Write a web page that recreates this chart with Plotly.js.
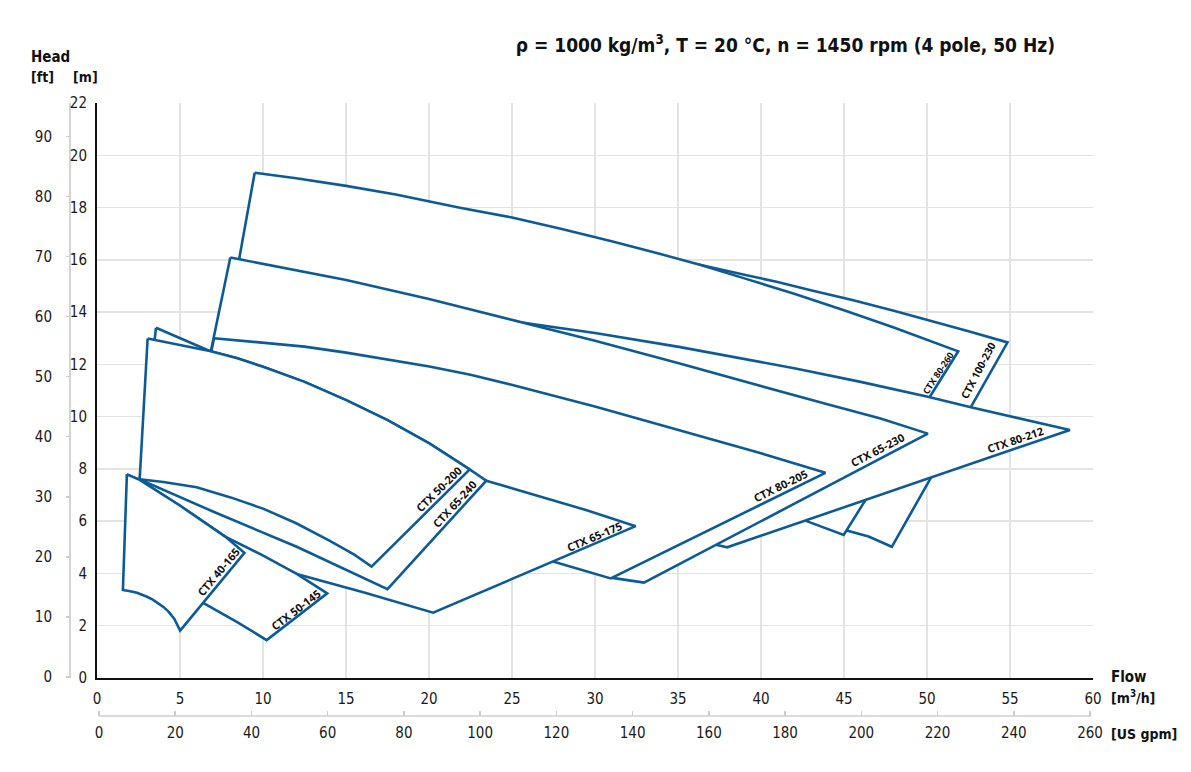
<!DOCTYPE html>
<html>
<head>
<meta charset="utf-8">
<script src="https://cdn.plot.ly/plotly-3.0.1.min.js"></script>
<style>
html,body{margin:0;padding:0;background:#fff;}
#chart{width:1191px;height:772px;}
</style>
</head>
<body>
<div id="chart"></div>
<script>
// ---------- DATA: pump operating tiles (Q in m3/h, H in m), drawn bottom -> top ----------
const ctx100_230_q = [12, 14, 22, 30, 36.37, 39, 41, 43, 45.5, 48, 50.5, 52.5, 54.85, 47.88, 46.48, 45.17, 43, 35, 25, 15, 12];
const ctx100_230_h = [18.5, 18.3, 17.5, 16.6, 15.8, 15.43, 15.15, 14.84, 14.46, 14.05, 13.62, 13.27, 12.84, 5.02, 5.41, 5.64, 6.6, 9.5, 12.5, 15.5, 16.5];

const ctx80_260_q = [9.5, 12, 15, 18, 21.86, 25, 28, 31, 34, 36.37, 39, 42, 45, 48, 51.88, 44.98, 42.67, 38, 30, 20, 12, 8.57];
const ctx80_260_h = [19.33, 19.12, 18.83, 18.5, 17.99, 17.62, 17.18, 16.71, 16.21, 15.8, 15.29, 14.7, 14.07, 13.41, 12.5, 5.47, 6.02, 7.5, 10, 12.5, 14.5, 16.05];

const ctx80_212_q = [9, 15, 20, 25.5, 30, 35.05, 38.5, 42, 46, 50.05, 52.64, 55.5, 58.61, 37.96, 37.36, 33, 20, 9];
const ctx80_212_h = [15.2, 14.65, 14.1, 13.62, 13.2, 12.67, 12.27, 11.85, 11.33, 10.76, 10.36, 9.95, 9.49, 5.0, 5.09, 5.5, 9, 12.5];

const ctx65_230_q = [8.03, 11.5, 15.01, 20, 25.03, 30, 35.05, 38, 41, 44, 47.2, 50.05, 32.95, 30.95, 27.5, 23, 6.5];
const ctx65_230_h = [16.09, 15.67, 15.23, 14.5, 13.7, 12.9, 12.04, 11.52, 11.0, 10.47, 9.93, 9.35, 3.65, 3.84, 4.75, 6.5, 11.4];

const ctx80_205_q = [7.05, 10, 12.5, 15.01, 17.5, 20.02, 22.5, 25.03, 30.05, 35.05, 40, 43.88, 30.95, 27.52, 25, 23.45, 6.6];
const ctx80_205_h = [13.0, 12.84, 12.68, 12.45, 12.2, 11.92, 11.6, 11.21, 10.38, 9.49, 8.6, 7.85, 3.81, 4.45, 4.95, 5.25, 11.6];

const ctx65_175_q = [23.45, 26.64, 29.5, 32.45, 20.25, 16.04, 12.03, 9.9, 7.72, 5.01, 2.9, 3.3, 10, 17];
const ctx65_175_h = [7.55, 6.95, 6.42, 5.81, 2.50, 3.28, 3.98, 4.6, 5.3, 6.5, 7.42, 9.0, 9.0, 7.8];

const ctx65_240_q = [3.55, 6.79, 8.4, 10.0, 12.5, 15.01, 17.5, 20.02, 22.45, 23.45, 17.5, 15.5, 12.03, 7.02, 2.57];
const ctx65_240_h = [13.4, 12.51, 12.24, 11.91, 11.33, 10.63, 9.87, 8.98, 7.98, 7.55, 3.40, 4.0, 5.02, 6.36, 7.60];

const ctx50_200_q = [3.05, 6.79, 8.4, 10.0, 12.5, 15.01, 17.5, 20.02, 22.45, 16.54, 15.5, 14, 12, 10, 8, 6, 4, 2.57];
const ctx50_200_h = [12.99, 12.51, 12.24, 11.91, 11.33, 10.63, 9.87, 8.98, 7.98, 4.26, 4.72, 5.26, 5.92, 6.48, 6.92, 7.30, 7.50, 7.60];

const ctx50_145_q = [1.80, 2.57, 5.01, 7.72, 9.9, 12.03, 13.87, 10.22, 8.42, 6.42, 4.5, 2.5];
const ctx50_145_h = [7.79, 7.58, 6.59, 5.41, 4.72, 3.98, 3.24, 1.45, 2.15, 2.86, 3.6, 4.5];

const ctx40_165_q = [1.80, 2.57, 5.01, 7.72, 8.88, 5.01, 4.66, 4.31, 4.0, 3.71, 3.36, 3.01, 2.41, 2.0, 1.56];
const ctx40_165_h = [7.79, 7.58, 6.59, 5.41, 4.79, 1.81, 2.26, 2.54, 2.72, 2.86, 3.0, 3.11, 3.26, 3.32, 3.37];

const tileNames = ['CTX 100-230','CTX 80-260','CTX 80-212','CTX 65-230','CTX 80-205',
                   'CTX 65-175','CTX 65-240','CTX 50-200','CTX 50-145','CTX 40-165'];
const tileQ = [ctx100_230_q, ctx80_260_q, ctx80_212_q, ctx65_230_q, ctx80_205_q,
               ctx65_175_q, ctx65_240_q, ctx50_200_q, ctx50_145_q, ctx40_165_q];
const tileH = [ctx100_230_h, ctx80_260_h, ctx80_212_h, ctx65_230_h, ctx80_205_h,
               ctx65_175_h, ctx65_240_h, ctx50_200_h, ctx50_145_h, ctx40_165_h];

// axis tick labels
const flowTicks = [0,5,10,15,20,25,30,35,40,45,50,55,60];
const flowGrid  = [5,10,15,20,25,30,35,40,45,50,55];
const headTicks = [0,2,4,6,8,10,12,14,16,18,20,22];
const gpmTicks  = [0,20,40,60,80,100,120,140,160,180,200,220,240,260];
const ftTicks   = [0,10,20,30,40,50,60,70,80,90];

// ---------- label placement (layout) ----------
const labelPlacement = {
  'CTX 40-165': {q:7.32,  h:4.07,  a:-50,   s:11},
  'CTX 50-145': {q:11.97, h:2.64,  a:-37.6, s:11},
  'CTX 50-200': {q:20.6,  h:7.26,  a:-44.7, s:11},
  'CTX 65-240': {q:21.55, h:6.68,  a:-47.6, s:11},
  'CTX 65-175': {q:29.95, h:5.43,  a:-23.1, s:11},
  'CTX 80-205': {q:41.17, h:7.38,  a:-26.2, s:11},
  'CTX 65-230': {q:47.04, h:8.75,  a:-27.6, s:11},
  'CTX 80-212': {q:55.34, h:9.13,  a:-18.9, s:11},
  'CTX 80-260': {q:50.69, h:11.68, a:-56.5, s:9},
  'CTX 100-230':{q:53.05, h:11.76, a:-62.4, s:10.5}
};

// ---------- build ----------
const W = 1191, H = 772;
const fx = p => p / W;            // pixel x -> paper
const fy = p => (H - p) / H;      // pixel y -> paper
const BLUE = '#0d5b96';
const NARROW = '"DejaVu Sans Condensed", "Liberation Sans Narrow", Roboto, sans-serif';
const LABELF = '"Open Sans", "DejaVu Sans", sans-serif';

const traces = tileQ.map((q, i) => ({
  type: 'scatter', mode: 'lines',
  x: q.concat([q[0]]), y: tileH[i].concat([tileH[i][0]]),
  fill: 'toself', fillcolor: '#ffffff',
  line: {color: BLUE, width: 2.6},
  name: tileNames[i], hoverinfo: 'skip', showlegend: false
}));
// invisible helper traces so that the secondary axes are built
[['x2','y'], ['x','y2'], ['x3','y']].forEach(p => traces.push({
  type:'scatter', mode:'markers', x:[0], y:[0], xaxis:p[0], yaxis:p[1],
  marker:{opacity:0}, hoverinfo:'skip', showlegend:false
}));

const tickFont = {family: NARROW, size: 15, color: '#1a1a1a'};
const boldFont = {family: NARROW, size: 14, color: '#111', weight: 'bold'};

// secondary axis ranges (as drawn on the reference)
const gpmPerPx = 260 / (1091 - 99);
const gpmRange = [-(99 - 97) * gpmPerPx, -(99 - 97) * gpmPerPx + (1094 - 97) * gpmPerPx];
const ftPerPx = 90 / (677 - 136.3);
const ftRange = [-(678 - 677) * ftPerPx, -(678 - 677) * ftPerPx + (678 - 103) * ftPerPx];

const annotations = tileNames.map(n => {
  const p = labelPlacement[n];
  return {x: p.q, y: p.h, xref: 'x', yref: 'y', text: n, showarrow: false,
          textangle: p.a, xanchor: 'center', yanchor: 'middle',
          font: {family: LABELF, size: p.s, color: '#111', weight: 'bold'}};
});
const axisText = [
  {t: 'Head', x: 29, y: 57, f: Object.assign({}, boldFont, {size: 15})},
  {t: '[ft]', x: 29, y: 77, f: boldFont},
  {t: '[m]',  x: 71, y: 77, f: boldFont},
  {t: 'Flow', x: 1109, y: 677, f: Object.assign({}, boldFont, {size: 15})},
  {t: '[m<sup>3</sup>/h]', x: 1109, y: 697, f: boldFont},
  {t: '[US gpm]', x: 1109, y: 734, f: boldFont}
];
axisText.forEach(a => annotations.push({
  x: fx(a.x), y: fy(a.y), xref: 'paper', yref: 'paper', text: a.t, showarrow: false,
  xanchor: 'left', yanchor: 'middle', font: a.f
}));

const layout = {
  width: W, height: H,
  margin: {l: 0, r: 0, t: 0, b: 0},
  paper_bgcolor: '#ffffff', plot_bgcolor: '#ffffff',
  showlegend: false,
  title: {
    text: 'ρ = 1000 kg/m<sup>3</sup>, T = 20 °C, n = 1450 rpm (4 pole, 50 Hz)',
    xref: 'container', yref: 'container', x: fx(1055), xanchor: 'right',
    y: fy(45), yanchor: 'middle',
    font: {family: NARROW, size: 19, color: '#111', weight: 'bold'}
  },
  xaxis: {
    domain: [fx(97), fx(1093)], range: [0, 60], anchor: 'y',
    tickmode: 'array', tickvals: flowTicks, ticktext: flowTicks.map(String),
    showgrid: false,
    showline: true, linecolor: '#111', linewidth: 2,
    ticks: '', zeroline: false, tickfont: tickFont, ticklabelstandoff: 6,
    fixedrange: true
  },
  xaxis3: {
    overlaying: 'x', anchor: 'y', range: [0, 60],
    tickmode: 'array', tickvals: flowGrid, showticklabels: false,
    showgrid: true, gridcolor: '#e3e3e3', gridwidth: 1.5,
    showline: false, ticks: '', zeroline: false, fixedrange: true
  },
  yaxis: {
    domain: [fy(678), fy(103)], range: [0, 22], anchor: 'x',
    tickmode: 'array', tickvals: headTicks, ticktext: headTicks.map(String),
    showgrid: true, gridcolor: '#e3e3e3', gridwidth: 1.5,
    showline: true, linecolor: '#111', linewidth: 2,
    ticks: '', zeroline: false, tickfont: tickFont, ticklabelstandoff: 5,
    fixedrange: true
  },
  xaxis2: {
    overlaying: 'x', anchor: 'free', position: fy(716), side: 'bottom',
    range: gpmRange, tickmode: 'array', tickvals: gpmTicks, ticktext: gpmTicks.map(String),
    ticks: 'inside', ticklen: 5, tickwidth: 1.5, tickcolor: '#cccccc',
    showline: false, showgrid: false, zeroline: false,
    tickfont: tickFont, ticklabelstandoff: 6, fixedrange: true
  },
  yaxis2: {
    overlaying: 'y', anchor: 'free', position: fx(69), side: 'left',
    range: ftRange, tickmode: 'array', tickvals: ftTicks, ticktext: ftTicks.map(String),
    ticks: 'outside', ticklen: 3, tickwidth: 1.5, tickcolor: '#cccccc',
    showline: true, linecolor: '#d4d4d4', linewidth: 1.5,
    showgrid: false, zeroline: false,
    tickfont: tickFont, ticklabelstandoff: 11, fixedrange: true
  },
  shapes: [
    {type: 'line', xref: 'paper', yref: 'paper', x0: fx(99), x1: fx(1091), y0: fy(716), y1: fy(716),
     line: {color: '#cfcfcf', width: 1.5}}
  ],
  annotations: annotations
};

Plotly.newPlot('chart', traces, layout, {displayModeBar: false, staticPlot: true});
</script>
</body>
</html>
